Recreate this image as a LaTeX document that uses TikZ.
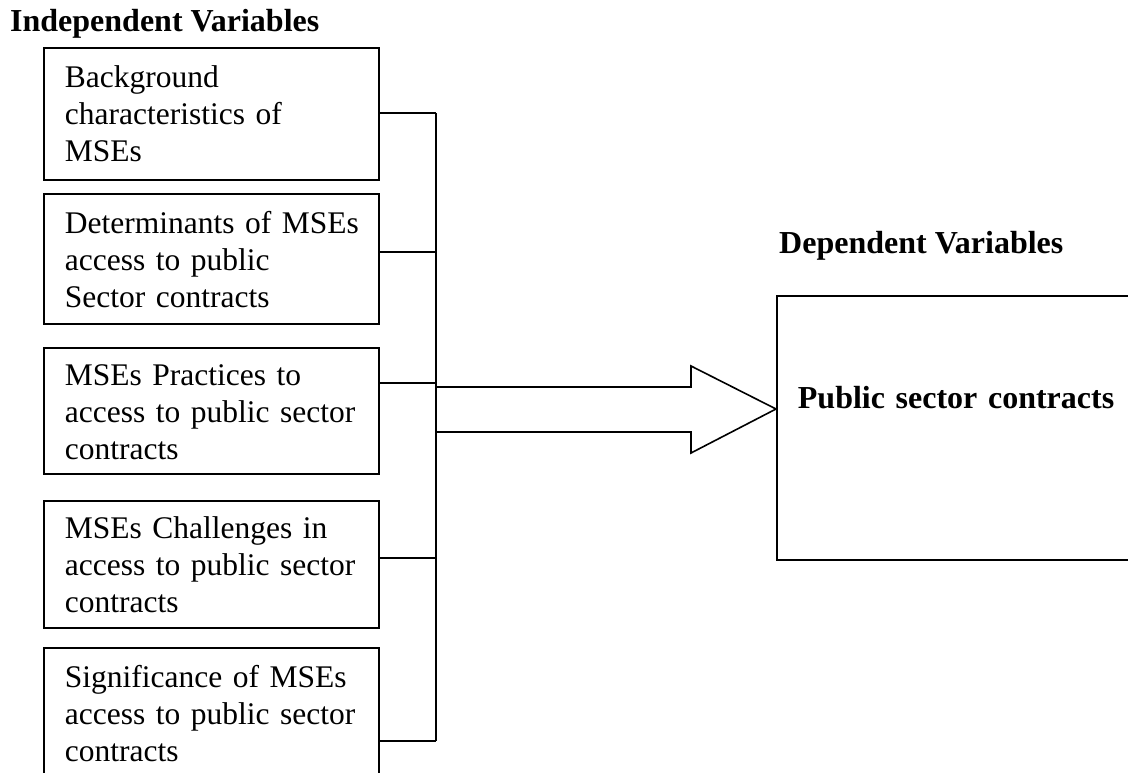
\documentclass[tikz,border=0pt]{standalone}
\usepackage{fontspec}
\setmainfont{Liberation Serif}
\usetikzlibrary{calc}
\begin{document}
\begin{tikzpicture}[x=1pt,y=-1pt,
  box/.style={draw,line width=1.8pt,anchor=north west,text width=293pt,
    inner xsep=21pt,inner ysep=0pt,align=left,
    font=\fontsize{31.5}{37}\selectfont},
  title/.style={anchor=base west,inner sep=0pt,font=\fontsize{32}{37}\selectfont\bfseries},
  link/.style={line width=1.8pt},
  bigarrow/.style={line width=1.6pt,line join=miter},
]
\useasboundingbox (0,0) rectangle (1128,773);
\clip (0,0) rectangle (1128,773);

\node[title] (ti) at (10,32) {Independent Variables};
\node[title] (td) at (779,253) {Dependent Variables};

\node[box,text height=40pt,text depth=92pt] (b1) at (43,47)
  {\mbox{Background}\\\mbox{characteristics of}\\\mbox{MSEs}};
\node[box,text height=40pt,text depth=90pt] (b2) at (43,193)
  {\mbox{Determinants of MSEs}\\\mbox{access to public}\\\mbox{Sector contracts}};
\node[box,text height=38pt,text depth=88pt] (b3) at (43,347)
  {\mbox{MSEs Practices to}\\\mbox{access to public sector}\\\mbox{contracts}};
\node[box,text height=38pt,text depth=89pt] (b4) at (43,500)
  {\mbox{MSEs Challenges in}\\\mbox{access to public sector}\\\mbox{contracts}};
\node[box,text height=40pt,text depth=110pt] (b5) at (43,647)
  {\mbox{Significance of MSEs}\\\mbox{access to public sector}\\\mbox{contracts}};

\node[draw,line width=1.8pt,anchor=north west,text width=380pt,
  inner xsep=21pt,inner ysep=0pt,align=left,text height=113pt,text depth=151pt,
  font=\fontsize{32}{37}\selectfont\bfseries] (dv) at (776,295)
  {Public sector contracts};

\coordinate (j1) at (436,113);
\coordinate (j2) at (436,252);
\coordinate (j3) at (436,383);
\coordinate (j4) at (436,558);
\coordinate (j5) at (436,741);

\draw[link] (b1.east |- j1) -- (j1);
\draw[link] (b2.east |- j2) -- (j2);
\draw[link] (b3.east |- j3) -- (j3);
\draw[link] (b4.east |- j4) -- (j4);
\draw[link] (b5.east |- j5) -- (j5);
\draw[link] (j1) -- (j5);

\coordinate (a1) at (436,387);
\coordinate (a2) at (436,432);
\coordinate (tip) at (dv.west |- 0,409);
\draw[bigarrow] (a1) -- ($(tip)+(-85,-22)$) -- ($(tip)+(-85,-43)$) -- (tip)
  -- ($(tip)+(-85,44)$) -- ($(tip)+(-85,23)$) -- (a2);
\end{tikzpicture}
\end{document}
